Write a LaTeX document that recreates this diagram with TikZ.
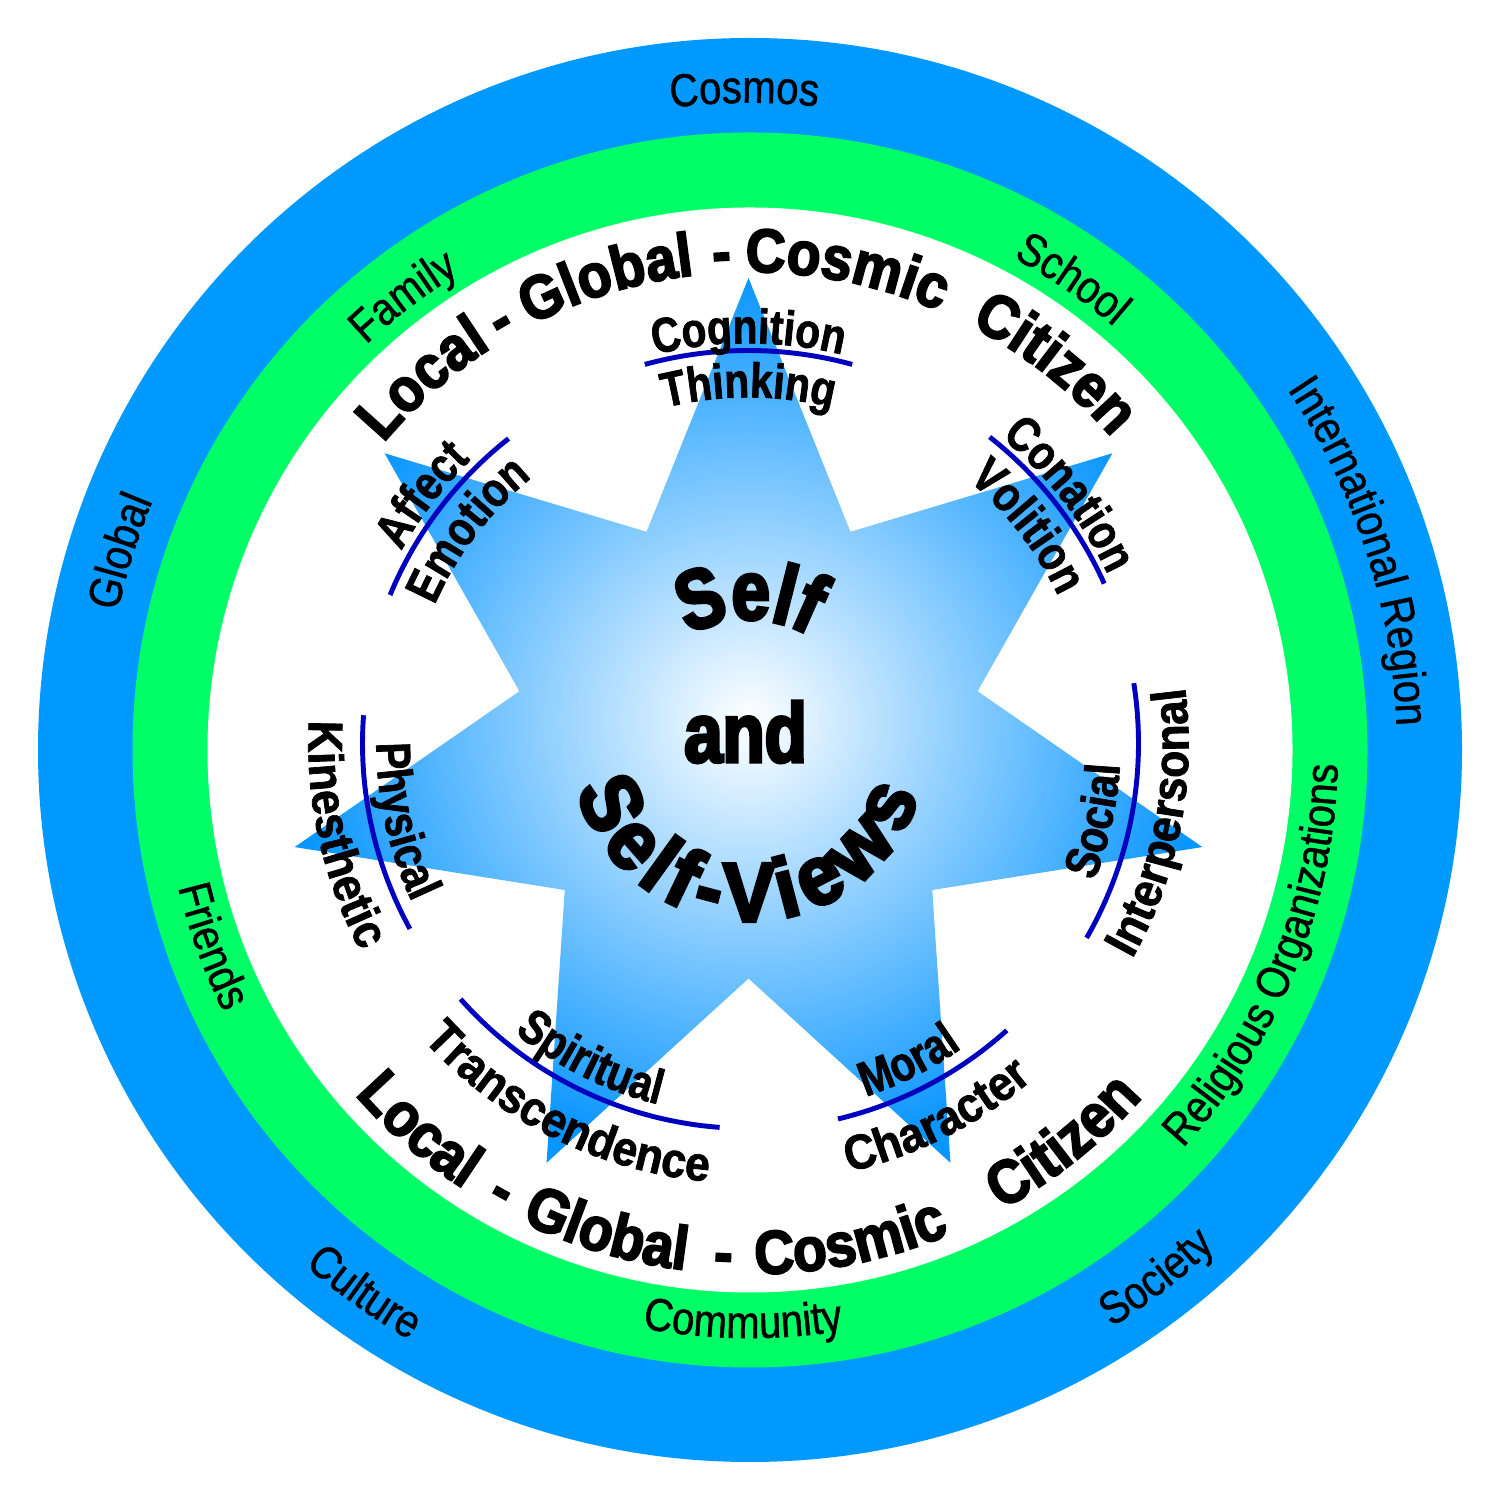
\documentclass[tikz,border=0pt]{standalone}
\usepackage{fontspec}
\usetikzlibrary{calc,decorations.text}
\setmainfont{Liberation Sans}
\newfontfamily\ringfam{Liberation Sans}[FakeStretch=0.87, FakeBold=1]
\newfontfamily\labfam{Liberation Sans}[FakeStretch=0.83, BoldFeatures={FakeBold=1.5}]
\newfontfamily\labwfam{Liberation Sans}[FakeStretch=0.91, BoldFeatures={FakeBold=1.5}]
\newfontfamily\citfam{Liberation Sans}[FakeStretch=0.9, BoldFeatures={FakeBold=3}]
\newfontfamily\selffam{Liberation Sans}[FakeStretch=0.82, BoldFeatures={FakeBold=4}]
\newfontfamily\viewsfam{Liberation Sans}[FakeStretch=0.93, BoldFeatures={FakeBold=4}]
\newcommand\ringf{\ringfam\fontsize{13.1}{14}\selectfont}
\newcommand\labf{\labfam\bfseries\fontsize{13.9}{15}\selectfont}
\newcommand\labwf{\labwfam\bfseries\fontsize{13.9}{15}\selectfont}
\newcommand\citf{\citfam\bfseries\fontsize{17.5}{19}\selectfont}
\newcommand\selff{\selffam\bfseries\fontsize{23.9}{26}\selectfont}
\newcommand\viewsf{\viewsfam\bfseries\fontsize{23.9}{26}\selectfont}
\definecolor{ringblue}{RGB}{0,153,255}
\definecolor{ringgreen}{RGB}{0,255,102}
\definecolor{starblue}{RGB}{10,150,255}
\definecolor{arcblue}{RGB}{0,0,190}
\tikzset{labarc/.style={draw=arcblue,line width=1.4pt}}
% clockwise text (tops outward): center, angle, baseline radius, font, text
\newcommand\cwtext[5]{\path[decorate,decoration={text along path,text align=center,text={|#4|#5}}] ($(#1)+({#2+75}:#3)$) arc[start angle={#2+75},end angle={#2-75},radius=#3];}
% counter-clockwise text (tops inward)
\newcommand\ccwtext[5]{\path[decorate,decoration={text along path,text align=center,text={|#4|#5}}] ($(#1)+({#2-75}:#3)$) arc[start angle={#2-75},end angle={#2+75},radius=#3];}
\newcommand\labarc[4]{\draw[labarc] ($(#1)+({#2}:#4)$) arc[start angle={#2},end angle={#3},radius=#4];}
\begin{document}
\begin{tikzpicture}[x=0.1mm,y=0.1mm]
\fill[white] (0,0) rectangle (1500,1500);
\coordinate (C) at (750,750);
\coordinate (S) at (748.5,756.5);
% rings
\fill[ringblue] (C) circle[radius=712];
\fill[ringgreen] (C) circle[radius=617.5];
\fill[white] (C) circle[radius=542.5];
% star
\begin{scope}[shift={(S)}]
\shade[inner color=white,outer color=starblue]
 (90:465.5) -- (115.714:235) -- (141.429:465.5) -- (167.143:235) --
 (192.857:465.5) -- (218.571:235) -- (244.286:465.5) -- (270:235) --
 (295.714:465.5) -- (321.429:235) -- (347.143:465.5) -- (12.857:235) --
 (38.571:465.5) -- (64.286:235) -- cycle;
\end{scope}
% label arcs
\labarc{S}{105.3}{74.7}{393}
\labarc{S}{157.5}{128.2}{388}
\labarc{S}{51.8}{24.2}{390}
\labarc{S}{8.9}{-29.9}{390}
\labarc{S}{-48}{-76.6}{386}
\labarc{S}{221.6}{265.7}{385}
\labarc{S}{175.8}{208.7}{386}
% outer blue ring texts
\cwtext{C}{90.5}{647}{\ringf}{Cosmos}
\cwtext{C}{18}{647}{\ringf}{International Region}
\ccwtext{C}{-52.4}{681}{\ringf}{Society}
\ccwtext{C}{234.6}{681}{\ringf}{Culture}
\cwtext{C}{162.5}{647}{\ringf}{Global}
% green ring texts
\cwtext{C}{127.4}{558}{\ringf}{Family}
\cwtext{C}{55.6}{558}{\ringf}{School}
\ccwtext{C}{-22}{588}{\ringf}{Religious Organizations}
\ccwtext{C}{269.3}{588}{\ringf}{Community}
\ccwtext{C}{200}{588}{\ringf}{Friends}
% citizen texts, top
\cwtext{C}{131.4}{478}{\citf}{Local}
\cwtext{C}{120.2}{478}{\citf}{-}
\cwtext{C}{107}{478}{\citf}{Global}
\cwtext{C}{93.3}{478}{\citf}{-}
\cwtext{C}{78.6}{478}{\citf}{Cosmic}
\cwtext{C}{51.7}{478}{\citf}{Citizen}
% citizen texts, bottom
\ccwtext{C}{229}{524}{\citf}{Local}
\ccwtext{C}{240.7}{524}{\citf}{-}
\ccwtext{C}{253.5}{524}{\citf}{Global}
\ccwtext{C}{267}{524}{\citf}{-}
\ccwtext{C}{281.5}{524}{\citf}{Cosmic}
\ccwtext{C}{308.6}{524}{\citf}{Citizen}
% star labels, upper points
\cwtext{S}{90}{400}{\labf}{Cognition}
\cwtext{S}{90}{346}{\labf}{Thinking}
\cwtext{S}{142.7}{397}{\labf}{Affect}
\cwtext{S}{142.7}{343}{\labf}{Emotion}
\cwtext{S}{37.8}{397}{\labf}{Conation}
\cwtext{S}{37.8}{343}{\labf}{Volition}
% star labels, lower points
\ccwtext{S}{-12.5}{372}{\labf}{Social}
\ccwtext{S}{-11}{440}{\labwf}{Interpersonal}
\ccwtext{S}{-63.3}{372}{\labf}{Moral}
\ccwtext{S}{-63.3}{440}{\labwf}{Character}
\ccwtext{S}{243.5}{372}{\labf}{Spiritual}
\ccwtext{S}{243.5}{440}{\labwf}{Transcendence}
\ccwtext{S}{192.6}{372}{\labf}{Physical}
\ccwtext{S}{192.6}{440}{\labwf}{Kinesthetic}
% centre
\cwtext{S}{90}{124}{\selff}{Self}
\node[font=\selff,anchor=base,inner sep=0pt] (andtxt) at (745.5,738) {and};
\path[decorate,decoration={text along path,text align={fit to path},text={|\viewsf|Self-Views}}]
 ($(S)+(195:178)$) arc[start angle=195,end angle=343,radius=178];
\pgfresetboundingbox
\useasboundingbox (0,0) rectangle (1500,1500);
\end{tikzpicture}
\end{document}
